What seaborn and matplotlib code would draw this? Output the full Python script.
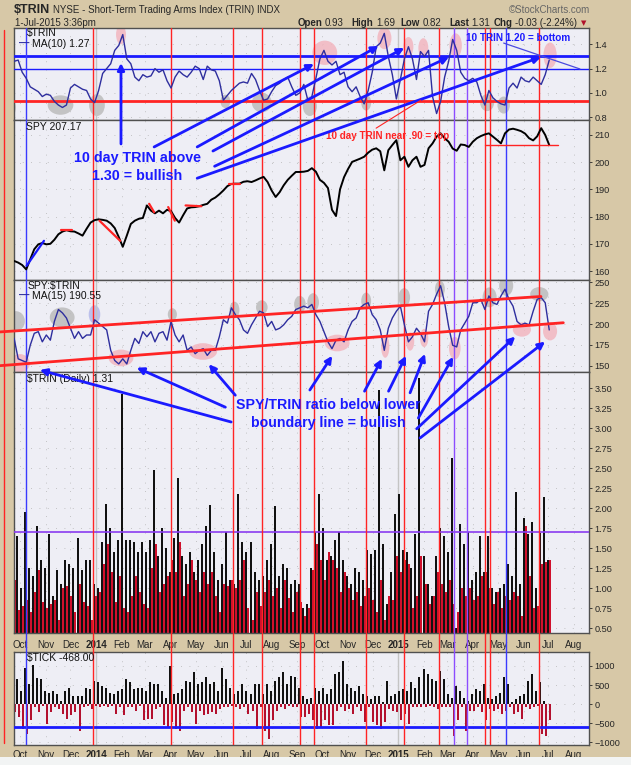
# $TRIN 走势图（StockCharts 风格）
import numpy as np
import pandas as pd
import matplotlib
matplotlib.use('Agg')
import matplotlib.pyplot as plt
import matplotlib.dates as mdates
from matplotlib.patches import Ellipse, ConnectionPatch, Rectangle
from matplotlib.lines import Line2D
import matplotlib.transforms as mtransforms
import seaborn as sns

sns.set_style('white')
plt.rcParams['font.family'] = ['Liberation Sans', 'DejaVu Sans']
plt.rcParams['patch.force_edgecolor'] = False

# ===================== 数据 =====================
first_day = '2013-09-24'
last_day = '2015-07-02'

trin_ma10 = [1.26, 1.27, 1.17, 1.12, 1.05, 1.03, 1.01, 0.97, 0.99, 0.98,
             0.93, 0.90, 0.88, 0.90, 1.04, 1.07, 1.05, 1.03, 1.02, 0.95,
             0.92, 1.02, 1.16, 1.20, 1.24, 1.35, 1.39, 1.48, 1.28, 1.24,
             1.13, 1.10, 1.15, 1.13, 1.14, 1.20, 1.17, 1.19, 1.10, 1.04,
             1.13, 1.18, 1.15, 1.13, 1.17, 1.22, 1.20, 1.11, 1.22, 1.19,
             1.18, 1.10, 0.94, 0.98, 1.02, 1.05, 1.08, 1.09, 1.08, 1.16,
             1.11, 1.02, 0.94, 0.95, 1.01, 1.06, 1.08, 1.11, 1.13, 1.05,
             0.98, 1.00, 1.07, 0.94, 0.97, 1.12, 1.28, 1.35, 1.26, 1.23,
             1.26, 1.15, 1.17, 1.05, 1.01, 1.05, 0.97, 0.91, 1.02, 1.17,
             1.38, 1.41, 1.49, 1.30, 1.15, 0.95, 1.11, 1.28, 1.38, 1.28,
             1.11, 1.34, 1.30, 1.35, 0.97, 0.83, 0.93, 1.13, 1.26, 1.44,
             1.35, 1.17, 1.12, 1.10, 1.12, 1.09, 0.98, 0.90, 1.02, 0.96,
             0.93, 0.91, 0.90, 1.04, 1.08, 1.04, 1.13, 1.10, 1.09, 1.13,
             1.10, 1.07, 1.15, 1.27]

spy_close = [163.7, 163.1, 162.2, 160.6, 164.3, 168.0, 169.8, 170.3, 169.8, 170.0,
             171.5, 173.5, 174.5, 175.0, 174.6, 174.5, 173.8, 173.0, 175.5, 177.8,
             178.7, 179.0, 178.8, 178.5, 177.5, 175.8, 172.5, 168.9, 173.0, 177.3,
             178.5, 179.2, 179.5, 184.1, 182.2, 181.2, 182.2, 181.2, 182.5, 182.0,
             179.5, 177.8, 180.5, 183.0, 183.4, 183.5, 183.8, 184.3, 184.7, 186.2,
             187.0, 188.2, 189.6, 191.2, 192.0, 192.1, 192.1, 192.8, 193.0, 192.7,
             193.3, 194.0, 194.6, 192.7, 189.6, 187.2, 189.0, 191.5, 193.5, 195.0,
             196.4, 196.4, 196.5, 196.8, 197.8, 196.5, 193.5, 192.4, 190.5, 182.5,
             180.2, 190.0, 194.5, 197.5, 200.1, 200.7, 201.3, 202.0, 203.5, 204.6,
             205.1, 204.0, 197.0, 204.4, 206.3, 208.1, 200.7, 202.0, 198.3, 200.7,
             202.0, 198.3, 199.0, 205.1, 206.9, 209.4, 210.6, 208.8, 207.5, 205.0,
             204.2, 206.5, 206.3, 205.6, 207.5, 208.8, 209.6, 210.2, 210.6, 209.4,
             208.2, 206.9, 210.6, 212.0, 212.3, 211.9, 211.4, 210.5, 208.8, 208.0,
             209.5, 212.5, 210.0, 206.3]

spy_trin_ma15 = [182.7, 158.2, 156.2, 154.1, 174.5, 188.8, 190.8, 178.6, 186.8, 180.6,
                 203.1, 217.4, 213.3, 207.2, 194.9, 182.7, 190.8, 182.7, 186.8, 186.8,
                 205.1, 201.0, 196.9, 192.9, 168.4, 156.2, 152.1, 158.2, 152.1, 168.4,
                 182.7, 176.6, 190.8, 184.7, 190.8, 178.6, 188.8, 190.8, 180.6, 203.1,
                 186.8, 178.6, 186.8, 168.4, 172.5, 164.3, 168.4, 170.4, 162.3, 168.4,
                 168.4, 184.7, 205.1, 201.0, 219.4, 211.2, 205.1, 192.9, 188.8, 199.0,
                 207.2, 215.3, 213.3, 196.9, 203.1, 192.9, 194.9, 199.0, 205.1, 209.2,
                 217.4, 219.4, 221.4, 219.4, 223.5, 211.2, 203.1, 190.8, 178.6, 170.4,
                 180.6, 182.7, 178.6, 192.9, 203.1, 207.2, 219.4, 223.5, 225.5, 211.2,
                 205.1, 192.9, 168.4, 194.9, 207.2, 215.3, 221.4, 199.0, 178.6, 184.7,
                 194.9, 188.8, 178.6, 215.3, 223.5, 235.7, 245.9, 225.5, 196.9, 174.5,
                 172.5, 192.9, 201.0, 209.2, 225.5, 225.5, 229.6, 217.4, 233.7, 225.5,
                 223.5, 233.7, 241.8, 229.6, 221.4, 203.1, 199.0, 201.0, 199.0, 215.3,
                 229.6, 231.7, 225.5, 192.9]

# TRIN 日线：黑柱 / 红柱
trin_black = [1.18, 1.65, 1.00, 1.95, 1.25, 1.15, 1.77, 1.35, 1.25, 1.68,
              0.90, 1.23, 1.05, 1.35, 1.30, 1.25, 1.63, 1.22, 1.35, 1.35,
              1.05, 1.00, 1.57, 2.05, 1.75, 1.45, 1.60, 3.43, 1.60, 1.60,
              1.58, 1.45, 1.58, 1.45, 1.60, 2.48, 1.40, 1.75, 1.50, 1.20,
              1.62, 2.37, 1.40, 1.30, 1.45, 1.20, 1.35, 1.55, 1.78, 2.04,
              1.45, 1.10, 1.30, 1.70, 1.10, 1.05, 2.18, 1.58, 1.45, 1.58,
              1.20, 1.10, 1.15, 1.35, 1.55, 2.03, 1.15, 1.30, 1.25, 1.05,
              1.10, 1.05, 0.75, 0.80, 1.25, 1.70, 2.17, 1.75, 1.35, 1.40,
              1.60, 1.70, 1.35, 1.15, 1.05, 1.25, 1.20, 1.10, 1.48, 1.42,
              1.48, 3.47, 1.55, 0.80, 1.20, 1.92, 2.18, 1.48, 1.45, 1.25,
              1.67, 3.62, 1.40, 1.05, 0.90, 1.40, 1.75, 1.65, 1.45, 2.63,
              0.50, 1.80, 1.55, 1.70, 1.10, 1.20, 1.65, 1.20, 1.65, 1.00,
              0.95, 1.00, 1.05, 1.30, 1.15, 2.20, 1.05, 1.88, 1.67, 1.82,
              1.00, 1.69, 2.14, 1.35]
trin_red = [1.10, 0.72, 0.78, 0.85, 0.70, 0.95, 1.22, 0.82, 0.75, 0.80,
            0.85, 0.60, 1.00, 1.02, 0.90, 0.70, 1.05, 0.82, 0.78, 0.60,
            0.90, 0.95, 1.30, 1.55, 1.20, 0.82, 1.15, 0.75, 0.70, 0.90,
            1.15, 0.95, 0.80, 0.75, 1.25, 1.55, 0.95, 1.05, 1.15, 1.35,
            1.20, 1.58, 0.90, 1.05, 1.35, 1.10, 0.95, 1.20, 1.05, 1.20,
            0.90, 0.70, 1.05, 1.02, 1.10, 1.00, 1.10, 1.35, 0.75, 0.60,
            0.95, 0.78, 0.95, 1.10, 0.90, 1.00, 0.75, 1.10, 0.88, 0.70,
            0.95, 0.82, 0.65, 0.75, 1.22, 1.55, 1.35, 1.10, 1.45, 1.35,
            1.25, 0.95, 1.20, 1.00, 0.85, 0.95, 0.78, 0.90, 1.00, 0.85,
            0.70, 1.10, 0.60, 0.90, 0.85, 1.40, 1.20, 1.35, 1.30, 0.75,
            0.90, 1.40, 1.05, 0.80, 0.90, 1.20, 1.05, 0.95, 1.10, 0.80,
            0.70, 1.00, 0.90, 1.00, 0.85, 0.90, 1.15, 1.20, 1.00, 0.80,
            0.95, 0.75, 0.90, 0.85, 0.95, 0.90, 0.65, 1.78, 1.15, 0.75,
            0.78, 1.30, 1.33, 1.35]

tick_up = [520, 650, 350, 950, 520, 1020, 680, 650, 350, 300,
           350, 260, 90, 350, 430, 220, 220, 220, 430, 390,
           610, 570, 480, 430, 300, 260, 350, 390, 650, 570,
           390, 430, 430, 350, 570, 520, 520, 350, 170, 1000,
           260, 300, 390, 610, 570, 830, 520, 570, 700, 520,
           570, 350, 950, 650, 430, 260, 350, 520, 350, 260,
           520, 520, 260, 520, 350, 610, 700, 830, 520, 740,
           700, 430, 220, 130, 170, 430, 350, 430, 260, 390,
           780, 830, 1130, 520, 430, 350, 480, 260, 220, 130,
           220, 220, 45, 610, 220, 260, 350, 390, 350, 570,
           430, 700, 910, 780, 650, 610, 870, 650, 260, 170,
           480, 350, 170, 90, 260, 390, 350, 520, 170, 130,
           220, 300, 700, 520, 45, 130, 220, 260, 610, 780,
           350, 570, 90, 0]
tick_down = [-220, -350, -650, -780, -430, -90, -220, -45, -520, -220,
             -90, -130, -260, -390, -300, -220, -700, -90, -45, -130,
             -45, -90, -45, -90, -45, -260, -90, -300, -90, -90,
             -175, -45, -430, -390, -390, -130, -90, -560, -610, -480,
             -650, -700, -175, -90, -220, -520, -175, -300, -260, -220,
             -260, -130, -90, -90, -45, -90, -130, -90, -260, -175,
             -650, -90, -700, -920, -430, -175, -90, -130, -45, -90,
             -90, -350, -350, -260, -430, -650, -610, -430, -560, -560,
             -175, -90, -175, -130, -260, -90, -175, -480, -90, -480,
             -560, -650, -480, -130, -175, -220, -430, -260, -520, -90,
             -90, -90, -90, -45, -90, -130, -90, -90, -90, -830,
             -430, -90, -700, -175, -175, -90, -220, -430, -130, -175,
             -130, -260, -175, -90, -260, -220, -390, -90, -130, -90,
             -45, -780, -830, -430]

month_ticks = ['2013-10-01', '2013-11-01', '2013-12-01', '2014-01-01', '2014-02-01',
               '2014-03-01', '2014-04-01', '2014-05-01', '2014-06-01', '2014-07-01',
               '2014-08-01', '2014-09-01', '2014-10-01', '2014-11-01', '2014-12-01',
               '2015-01-01', '2015-02-01', '2015-03-01', '2015-04-01', '2015-05-01',
               '2015-06-01', '2015-07-01', '2015-08-01']
month_labels = ['Oct', 'Nov', 'Dec', '2014', 'Feb', 'Mar', 'Apr', 'May', 'Jun', 'Jul',
                'Aug', 'Sep', 'Oct', 'Nov', 'Dec', '2015', 'Feb', 'Mar', 'Apr', 'May',
                'Jun', 'Jul', 'Aug']

trin_ticks = [0.8, 1.0, 1.2, 1.4]
spy_ticks = [160, 170, 180, 190, 200, 210]
ratio_ticks = [150, 175, 200, 225, 250]
daily_ticks = [0.50, 0.75, 1.00, 1.25, 1.50, 1.75, 2.00, 2.25, 2.50, 2.75, 3.00, 3.25, 3.50]
tick_ticks = [-1000, -500, 0, 500, 1000]

# 标记竖线
red_days = ['2013-12-28', '2014-04-01', '2014-06-15', '2014-07-20', '2014-09-04', '2014-09-21',
            '2014-11-23', '2015-01-08', '2015-02-19', '2015-04-16', '2015-04-21', '2015-06-20']
blue_days = ['2013-10-08', '2015-05-11']
purple_days = ['2015-03-09', '2015-03-25']
year_days = ['2014-01-01', '2015-01-01']
edge_day = '2013-09-12'

# 水平参考线
trin_bull, trin_bottom, trin_top = 1.30, 1.20, 0.93
daily_line = 1.70
tick_line = -600

# 圈出的高低点（日期, 数值, 宽-天, 高）
trin_pink = [('2014-01-31', 1.48, 12, 0.16), ('2014-10-04', 1.33, 30, 0.20),
             ('2014-12-15', 1.45, 17, 0.18), ('2015-01-13', 1.38, 12, 0.16),
             ('2015-01-31', 1.37, 12, 0.16), ('2015-03-11', 1.39, 15, 0.20),
             ('2015-07-03', 1.31, 16, 0.21)]
trin_gray = [('2013-09-21', 0.88, 10, 0.14), ('2013-11-19', 0.90, 31, 0.16),
             ('2014-01-02', 0.90, 19, 0.18), ('2014-06-06', 0.93, 12, 0.11),
             ('2014-07-20', 0.92, 24, 0.16), ('2014-09-16', 0.89, 17, 0.16),
             ('2014-11-23', 0.92, 12, 0.13), ('2015-04-18', 0.92, 17, 0.14),
             ('2015-05-08', 0.90, 15, 0.14)]
ratio_gray = [('2013-09-26', 203.4, 22, 24), ('2013-11-21', 207.9, 30, 24),
              ('2014-04-03', 211.5, 11, 15), ('2014-06-17', 216.8, 12, 20),
              ('2014-07-20', 220.0, 14, 17), ('2014-09-04', 223.7, 14, 20),
              ('2014-09-20', 226.0, 14, 22), ('2014-11-23', 227.7, 12, 20),
              ('2015-01-08', 232.0, 14, 22), ('2015-02-20', 241.9, 12, 20),
              ('2015-04-21', 232.0, 17, 24), ('2015-05-11', 246.0, 17, 24),
              ('2015-06-20', 235.8, 22, 17)]
ratio_blue = [('2013-12-30', 211.5, 14, 22)]
ratio_pink = [('2013-10-01', 152.9, 24, 22), ('2014-01-31', 159.3, 30, 20),
              ('2014-05-10', 167.0, 34, 20), ('2014-10-19', 177.2, 30, 20),
              ('2014-12-16', 173.0, 10, 27), ('2015-01-15', 179.0, 10, 22),
              ('2015-02-01', 183.2, 10, 22), ('2015-03-10', 171.0, 14, 27),
              ('2015-05-30', 193.3, 22, 17), ('2015-07-03', 191.3, 17, 22)]

# 趋势线 / 小标记
ratio_upper = ('2013-09-07', 190.5, '2015-06-22', 233.0)
ratio_lower = ('2013-09-07', 150.0, '2015-07-19', 201.5)
spy_red_marks = [('2013-11-19', 175.1, '2013-12-03', 175.1), ('2014-01-05', 178.5, '2014-01-30', 171.1),
                 ('2014-03-06', 184.7, '2014-03-12', 181.6), ('2014-03-29', 183.5, '2014-04-06', 178.5),
                 ('2014-04-19', 184.1, '2014-05-08', 183.8), ('2014-06-10', 192.1, '2014-06-24', 192.1)]
spy_support = ('2015-04-16', 206.3, '2015-07-12', 206.3)
spy_blue_mark = ('2013-10-09', 161.9, '2013-10-30', 171.1)

# 箭头：SPY 面板 -> TRIN 面板
up_arrows = [(('2014-03-12', 205.6), ('2014-09-21', 1.238)),
             (('2014-05-03', 205.6), ('2014-12-08', 1.386)),
             (('2014-05-22', 204.1), ('2015-01-08', 1.370)),
             (('2014-05-24', 198.5), ('2015-03-03', 1.295)),
             (('2014-05-03', 194.1), ('2015-06-22', 1.295)),
             (('2014-01-31', 206.7), ('2014-01-31', 1.246))]
# 箭头：TRIN 日线面板 -> SPY:TRIN 面板
low_arrows = [(('2014-06-13', 3.075), ('2013-10-25', 144.8)),
              (('2014-06-06', 3.26), ('2014-02-19', 147.6)),
              (('2014-06-18', 3.41), ('2014-05-17', 151.7)),
              (('2014-09-16', 3.475), ('2014-10-13', 161.8)),
              (('2014-11-21', 3.46), ('2014-12-12', 158.1)),
              (('2014-12-20', 3.46), ('2015-01-10', 161.8)),
              (('2015-01-15', 3.44), ('2015-02-02', 164.2)),
              (('2015-01-25', 3.125), ('2015-03-08', 160.6)),
              (('2015-01-23', 2.99), ('2015-05-22', 184.9)),
              (('2015-01-27', 2.875), ('2015-06-27', 178.8))]


def d(s):
    return mdates.date2num(pd.Timestamp(s))


dates = pd.date_range(first_day, last_day, periods=len(trin_ma10))
x = mdates.date2num(dates)
step = x[1] - x[0]

# ===================== 画布与面板 =====================
W, H = 631, 765
TAN = '#d7c8a7'
PANEL = '#eeeef5'
BLUE = '#1a1aff'
NAVY = '#2e2e9e'
RED = '#ff2424'

fig = plt.figure(figsize=(W / 100, H / 100), dpi=100, facecolor=TAN)
fig.patches.append(Rectangle((0, 0), 1, 8 / H, transform=fig.transFigure,
                             facecolor='#f2f4f4', edgecolor='none'))


def box(top, bottom, left=14, right=589):
    return [left / W, 1 - bottom / H, (right - left) / W, (bottom - top) / H]


ax1 = fig.add_axes(box(28, 120))
ax2 = fig.add_axes(box(120, 280), sharex=ax1)
ax3 = fig.add_axes(box(280, 372), sharex=ax1)
ax4 = fig.add_axes(box(372, 633), sharex=ax1)
ax5 = fig.add_axes(box(652, 745), sharex=ax1)
axes = [ax1, ax2, ax3, ax4, ax5]

# ===================== 1. TRIN MA(10) =====================
for c, v, w, h in trin_pink:
    ax1.add_patch(Ellipse((d(c), v), w, h, facecolor='#f2b6bf', edgecolor='none', alpha=0.85, zorder=1))
for c, v, w, h in trin_gray:
    ax1.add_patch(Ellipse((d(c), v), w, h, facecolor='#bcbcbc', edgecolor='none', alpha=0.85, zorder=1))
sns.lineplot(x=x, y=trin_ma10, ax=ax1, color=NAVY, linewidth=1.0, zorder=4)
ax1.axhline(trin_bull, color=BLUE, lw=2, zorder=3)
ax1.axhline(trin_bottom, color=BLUE, lw=1, zorder=3)
ax1.axhline(trin_top, color=RED, lw=2, zorder=3)
ax1.plot([d('2015-05-08'), d('2015-08-08')], [1.41, 1.197], color='#4a4ae0', lw=0.9, zorder=5)
ax1.text(d('2015-05-25'), 1.452, '10 TRIN 1.20 = bottom', color=BLUE, fontsize=7.2,
         weight='bold', ha='center', va='center', zorder=6)
ax1.set_ylim(0.777, 1.534)
ax1.set_yticks(trin_ticks)
ax1.yaxis.set_major_formatter(plt.FormatStrFormatter('%.1f'))

# ===================== 2. SPY =====================
sns.lineplot(x=x, y=spy_close, ax=ax2, color='black', linewidth=1.4, zorder=4)
for x0, y0, x1, y1 in spy_red_marks:
    ax2.plot([d(x0), d(x1)], [y0, y1], color=RED, lw=1.6, zorder=5)
ax2.plot([d(spy_support[0]), d(spy_support[2])], [spy_support[1], spy_support[3]],
         color=RED, lw=1.0, zorder=5)
ax2.plot([d(spy_blue_mark[0]), d(spy_blue_mark[2])], [spy_blue_mark[1], spy_blue_mark[3]],
         color=BLUE, lw=1.6, zorder=5)
ax2.text(d('2014-02-20'), 201.5, '10 day TRIN above', color=BLUE, fontsize=10.3,
         weight='bold', ha='center', va='center', zorder=6)
ax2.text(d('2014-02-20'), 194.8, '1.30 = bullish', color=BLUE, fontsize=10.3,
         weight='bold', ha='center', va='center', zorder=6)
ax2.text(d('2014-12-19'), 209.6, '10 day TRIN near .90 = top', color=RED, fontsize=7.1,
         weight='bold', ha='center', va='center', zorder=6)
ax2.set_ylim(156.7, 215.5)
ax2.set_yticks(spy_ticks)

# ===================== 3. SPY:$TRIN MA(15) =====================
for c, v, w, h in ratio_gray:
    ax3.add_patch(Ellipse((d(c), v), w, h, facecolor='#bcbcbc', edgecolor='none', alpha=0.85, zorder=1))
for c, v, w, h in ratio_blue:
    ax3.add_patch(Ellipse((d(c), v), w, h, facecolor='#b4b8ea', edgecolor='none', alpha=0.85, zorder=1))
for c, v, w, h in ratio_pink:
    ax3.add_patch(Ellipse((d(c), v), w, h, facecolor='#f2b6bf', edgecolor='none', alpha=0.85, zorder=1))
sns.lineplot(x=x, y=spy_trin_ma15, ax=ax3, color=NAVY, linewidth=1.0, zorder=4)
for x0, y0, x1, y1 in (ratio_upper, ratio_lower):
    ax3.plot([d(x0), d(x1)], [y0, y1], color=RED, lw=2, zorder=5, clip_on=False)
ax3.set_ylim(142.4, 252.8)
ax3.set_yticks(ratio_ticks)

# ===================== 4. TRIN 日线（竖线柱，固定 2 像素宽） =====================
stem_kw = dict(linewidth=1.44, antialiased=False, zorder=2)
ax4.vlines(x - step / 4, 0, trin_black, color='#111111', **stem_kw)
ax4.vlines(x + step / 4, 0, trin_red, color='#d0102c', **stem_kw)
ax4.axhline(daily_line, color='#8a3cf0', lw=1.2, zorder=3)
ax4.text(d('2014-10-08'), 3.29, 'SPY/TRIN ratio below lower', color=BLUE, fontsize=10.2,
         weight='bold', ha='center', va='center', zorder=6)
ax4.text(d('2014-10-08'), 3.06, 'boundary line = bullish', color=BLUE, fontsize=10.2,
         weight='bold', ha='center', va='center', zorder=6)
ax4.set_ylim(0.4375, 3.70)
ax4.set_yticks(daily_ticks)
ax4.yaxis.set_major_formatter(plt.FormatStrFormatter('%.2f'))

# ===================== 5. TICK =====================
ax5.vlines(x - step / 4, 0, tick_up, color='#111111', **stem_kw)
ax5.vlines(x + step / 4, 0, tick_down, color='#b3102e', **stem_kw)
ax5.axhline(tick_line, color=BLUE, lw=2, zorder=3)
ax5.set_ylim(-1078, 1368)
ax5.set_yticks(tick_ticks)

# ===================== 公共样式 =====================
for ax in axes:
    ax.set_facecolor(PANEL)
    ax.set_xlabel('')
    ax.set_ylabel('')
    ax.yaxis.tick_right()
    ax.tick_params(axis='y', direction='out', length=2.5, width=0.6, labelsize=6.6, pad=1.5)
    ax.grid(True, color='#b4b4b4', linestyle=(0, (1, 9)), linewidth=0.6)
    ax.set_axisbelow(True)
    for s in ax.spines.values():
        s.set_color('#505050')
        s.set_linewidth(1.0)
    for s in red_days:
        ax.axvline(d(s), color=RED, lw=1, zorder=3)
    for s in blue_days:
        ax.axvline(d(s), color='#3a3aff', lw=1, zorder=3)
    for s in purple_days:
        ax.axvline(d(s), color='#8c4cff', lw=1, zorder=3)
    for s in year_days:
        ax.axvline(d(s), color='#c4c4c4', lw=1, zorder=1.5)

ax1.set_xlim(d('2013-09-23 20:00'), d('2015-08-19'))
ax1.set_xticks([d(s) for s in month_ticks])
ax1.set_xticklabels(month_labels)
for ax in (ax1, ax2, ax3):
    ax.tick_params(axis='x', length=0, labelbottom=False)
ax4.tick_params(axis='x', length=2, width=0.6, labelsize=7, pad=3, labelbottom=True)
ax5.tick_params(axis='x', length=2, width=0.6, labelsize=7, pad=1.5, labelbottom=True)
for ax in (ax4, ax5):
    for lbl in ax.get_xticklabels():
        if lbl.get_text() in ('2014', '2015'):
            lbl.set_fontweight('bold')

# 面板间空隙里的竖线 + 最左侧红线
gap = mtransforms.blended_transform_factory(ax1.transData, fig.transFigure)
for s, col in [(s, RED) for s in red_days] + [(s, '#3a3aff') for s in blue_days] + \
        [(s, '#8c4cff') for s in purple_days]:
    fig.add_artist(Line2D([d(s), d(s)], [1 - 633 / H, 1 - 652 / H], transform=gap, color=col, lw=1))
fig.add_artist(Line2D([d(edge_day), d(edge_day)], [1 - 30 / H, 1 - 743 / H], transform=gap,
                      color=RED, lw=1))

# ===================== 面板内标签 =====================
lab = dict(fontsize=7.5, va='center', ha='left', color='#111111', zorder=7)
ax1.text(0.023, 0.942, '\\$TRIN', transform=ax1.transAxes, **lab)
ax1.text(0.009, 0.826, '—', transform=ax1.transAxes, fontsize=7.5, weight='bold',
         color=NAVY, va='center', ha='left', zorder=7)
ax1.text(0.031, 0.826, 'MA(10) 1.27', transform=ax1.transAxes, **lab)
ax2.text(0.021, 0.958, 'SPY 207.17', transform=ax2.transAxes, **lab)
ax3.text(0.023, 0.935, 'SPY:\\$TRIN', transform=ax3.transAxes, **lab)
ax3.text(0.009, 0.826, '—', transform=ax3.transAxes, fontsize=7.5, weight='bold',
         color=NAVY, va='center', ha='left', zorder=7)
ax3.text(0.031, 0.826, 'MA(15) 190.55', transform=ax3.transAxes, **lab)
ax4.text(0.023, 0.973, '\\$TRIN (Daily) 1.31', transform=ax4.transAxes, **lab)
ax5.text(0.023, 0.932, '\\$TICK -468.00', transform=ax5.transAxes, **lab)

# ===================== 箭头 =====================
for (d0, v0), (d1, v1) in up_arrows:
    fig.add_artist(ConnectionPatch(xyA=(d(d0), v0), coordsA='data', axesA=ax2,
                                   xyB=(d(d1), v1), coordsB='data', axesB=ax1,
                                   arrowstyle='-|>', mutation_scale=10, color=BLUE, lw=2))
for (d0, v0), (d1, v1) in low_arrows:
    fig.add_artist(ConnectionPatch(xyA=(d(d0), v0), coordsA='data', axesA=ax4,
                                   xyB=(d(d1), v1), coordsB='data', axesB=ax3,
                                   arrowstyle='-|>', mutation_scale=10, color=BLUE, lw=2))
fig.add_artist(ConnectionPatch(xyA=(d('2014-12-05'), 212.5), coordsA='data', axesA=ax2,
                               xyB=(d('2015-01-28'), 0.94), coordsB='data', axesB=ax1,
                               arrowstyle='-', color=RED, lw=0.8))

# ===================== 标题栏 =====================
fig.text(14 / W, 1 - 10 / H, '\\$TRIN', fontsize=9, weight='bold', va='center', ha='left')
fig.text(53 / W, 1 - 10 / H, 'NYSE - Short-Term Trading Arms Index (TRIN) INDX', fontsize=7,
         va='center', ha='left')
fig.text(15 / W, 1 - 23 / H, '1-Jul-2015 3:36pm', fontsize=7, va='center', ha='left')
fig.text(590 / W, 1 - 10 / H, '©StockCharts.com', fontsize=7, color='#666666',
         va='center', ha='right')
info = [('Open', 298, True), ('0.93', 325, False), ('High', 351, True), ('1.69', 376, False),
        ('Low', 400, True), ('0.82', 423, False), ('Last', 449, True), ('1.31', 471, False),
        ('Chg', 494, True), ('-0.03 (-2.24%)', 515, False)]
for txt, xp, bold in info:
    fig.text(xp / W, 1 - 23 / H, txt, fontsize=7, weight='bold' if bold else 'normal',
             va='center', ha='left')
fig.text(584 / W, 1 - 23 / H, '▼', fontsize=5, color='#b0102a', va='center', ha='center',
         family=['DejaVu Sans'])

fig.savefig('out.png', dpi=100, facecolor=TAN)
